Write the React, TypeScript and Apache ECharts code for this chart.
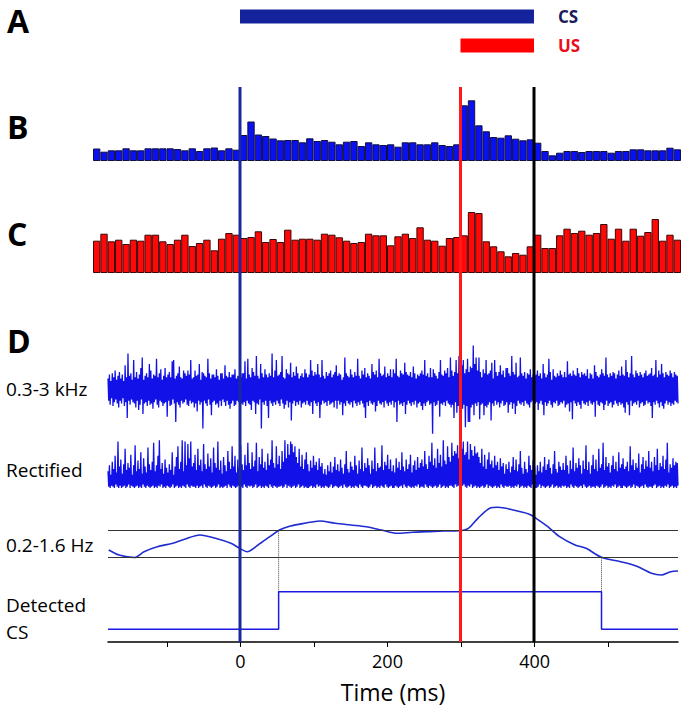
import React, { useEffect, useRef } from "react";
import * as echarts from "echarts";

// ---------- DATA ----------
// Panel A: stimulus timing (ms)
const csEvent = [0, 400];
const usEvent = [300, 400];

// Panels B / C: peri-stimulus histograms, 10 ms bins from -200 ms
const binStart = -200;
const binWidth = 10;
const blueHist = [
  12.5, 9.3, 10.7, 10.7, 12.7, 10.7, 10.7, 12.7, 12.7, 12.7, 12.7, 12, 10.7, 12.7, 10, 12.7, 13.5, 10.7, 12.7, 11.3,
  26, 39.5, 26.5, 25, 22.5, 20.7,
  21, 21, 18.7, 22.7, 20, 21, 19.3, 16.7, 19.3, 20, 15, 18.7, 16.7, 16, 16.7, 14.3, 18.7, 18.7, 16.7, 16.7, 18.7, 16, 15, 16.7,
  55.7, 60.7, 35.7, 29.7, 24, 23.3, 25.7, 22.3, 20.7, 21.7,
  18.3, 10, 5.7, 8.3, 10, 10, 9, 10, 10, 10, 8.3, 10, 10, 11.7, 11.7, 10.7, 10.7, 10.7, 13.3, 11.7,
];
const redHist = [
  32.3, 39.3, 31.7, 33.3, 29, 33.3, 32.3, 38.3, 38.3, 31.7, 29, 33.3, 38.3, 27, 30, 33.3, 22.7, 34.3, 40, 38.3,
  35, 36, 41.7, 31, 34, 31, 43.3,
  33.3, 34.3, 34.3, 33.3, 39.3, 38.3, 35.7, 32.3, 30, 31, 39.3, 37.7, 37.7, 27.7, 36.7, 39.3, 35, 45.7, 33.3, 32.3, 27.3, 35, 36,
  37.7, 61, 60, 31.7, 26.7, 21.7, 16.7, 20, 18.3, 26.7,
  38.3, 25, 25, 37.7, 44.3, 40, 42.3, 38.3, 40, 49, 34.3, 44.3, 32.3, 44.3, 37.3, 41, 54, 32.3, 38.3, 33.3,
];

// Panel D: recorded traces, evenly sampled from -180 to 595 ms.
// Each trace alternates peak / trough samples: peaks[i], troughs[i], peaks[i+1], ...
const traceStart = -180;
const traceEnd = 595;
// 0.3-3 kHz band: upward excursions
const rawPeaks = [
  8, 11, 6, 12, 9, 14, 7, 10, 13, 8, 11, 6, 18, 9, 27, 10, 12, 7, 22, 9,
  13, 8, 11, 16, 24, 7, 10, 12, 9, 19, 14, 8, 11, 10, 23, 9, 12, 15, 7, 10,
  16, 9, 11, 13, 9, 21, 22, 8, 10, 12, 17, 9, 8, 14, 12, 10, 14, 11, 22, 8,
  9, 14, 10, 11, 19, 7, 13, 12, 10, 9, 23, 12, 8, 11, 11, 9, 15, 10, 7, 12,
  12, 8, 18, 10, 9, 13, 9, 11, 11, 15, 8, 10, 10, 9, 12, 12, 21, 8, 23, 11,
  9, 16, 13, 10, 25, 10, 8, 19, 12, 9, 15, 11, 9, 12, 10, 27, 9, 14, 22, 10,
  11, 13, 25, 9, 8, 15, 12, 11, 20, 9, 13, 10, 17, 12, 8, 10, 12, 9, 15, 12,
  9, 11, 22, 14, 10, 13, 11, 19, 11, 9, 22, 10, 8, 13, 10, 12, 14, 9, 11, 13,
  18, 10, 12, 11, 7, 9, 24, 12, 10, 9, 15, 11, 9, 13, 10, 23, 10, 8, 14, 11,
  16, 9, 12, 10, 8, 19, 13, 11, 14, 9, 23, 12, 10, 11, 17, 9, 12, 10, 15, 9,
  15, 12, 23, 10, 9, 14, 12, 11, 20, 13, 11, 10, 13, 9, 17, 12, 8, 11, 10, 12,
  14, 11, 22, 10, 12, 9, 16, 9, 15, 12, 10, 8, 13, 22, 11, 10, 14, 12, 16, 9,
  24, 14, 10, 13, 22, 12, 25, 11, 18, 22, 12, 15, 23, 13, 17, 16, 33, 19, 24, 14,
  24, 13, 9, 15, 12, 22, 11, 12, 14, 20, 8, 22, 13, 10, 13, 18, 11, 14, 9, 16,
  16, 12, 10, 25, 13, 11, 20, 9, 10, 24, 12, 10, 13, 8, 12, 11, 15, 9, 11, 10,
  11, 14, 10, 12, 8, 19, 12, 9, 11, 23, 13, 7, 15, 10, 9, 12, 10, 14, 11, 9,
  13, 9, 21, 11, 12, 10, 14, 11, 10, 16, 12, 9, 13, 11, 12, 10, 15, 8, 12, 11,
  8, 18, 13, 10, 9, 11, 15, 12, 10, 24, 11, 9, 12, 10, 13, 12, 8, 11, 14, 10,
  17, 11, 10, 22, 13, 9, 12, 25, 11, 9, 14, 12, 10, 13, 11, 9, 12, 14, 10, 11,
  12, 16, 10, 11, 22, 9, 14, 11, 19, 12, 9, 13, 11, 10, 14, 12, 9, 13, 11, 10,
];
// 0.3-3 kHz band: downward excursions (magnitudes)
const rawTroughs = [
  9, 12, 7, 13, 10, 8, 11, 14, 9, 11, 7, 13, 10, 22, 9, 12, 8, 10, 11, 14,
  9, 16, 12, 8, 19, 11, 10, 13, 9, 12, 11, 15, 10, 8, 12, 14, 9, 10, 13, 11,
  10, 21, 9, 13, 12, 8, 11, 25, 10, 12, 14, 9, 11, 10, 8, 12, 13, 9, 11, 10,
  14, 11, 17, 9, 12, 10, 30, 9, 11, 13, 8, 12, 20, 10, 9, 12, 11, 14, 9, 13,
  8, 10, 13, 9, 12, 15, 11, 9, 13, 12, 9, 10, 8, 11, 12, 10, 13, 9, 11, 12,
  16, 9, 10, 19, 11, 12, 8, 30, 10, 12, 9, 13, 22, 9, 11, 13, 10, 12, 9, 11,
  13, 8, 11, 15, 12, 9, 14, 10, 24, 11, 9, 13, 10, 12, 9, 14, 11, 10, 12, 9,
  12, 13, 10, 19, 9, 11, 13, 10, 22, 12, 9, 11, 10, 13, 9, 12, 11, 10, 14, 9,
  15, 9, 12, 10, 20, 11, 13, 9, 11, 12, 10, 14, 9, 11, 13, 10, 12, 9, 11, 14,
  22, 10, 13, 9, 11, 12, 10, 17, 13, 9, 11, 12, 10, 14, 9, 11, 13, 10, 12, 9,
  14, 10, 25, 9, 12, 11, 13, 10, 19, 12, 9, 11, 13, 10, 12, 9, 14, 11, 10, 13,
  16, 11, 13, 10, 9, 12, 11, 34, 10, 13, 12, 9, 21, 11, 12, 10, 13, 9, 11, 12,
  14, 12, 22, 10, 18, 13, 26, 11, 15, 12, 29, 13, 25, 25, 14, 12, 20, 11, 13, 10,
  23, 12, 11, 20, 13, 14, 12, 10, 24, 11, 13, 9, 12, 10, 14, 11, 9, 13, 12, 10,
  18, 12, 10, 15, 11, 19, 13, 9, 11, 12, 10, 13, 9, 11, 12, 14, 10, 9, 13, 11,
  10, 16, 11, 9, 12, 20, 10, 13, 11, 9, 12, 14, 10, 11, 9, 13, 12, 10, 11, 9,
  14, 12, 11, 17, 10, 23, 9, 11, 13, 10, 12, 15, 9, 11, 12, 10, 13, 9, 11, 12,
  10, 21, 9, 12, 13, 10, 11, 16, 12, 9, 13, 11, 10, 14, 12, 9, 11, 13, 10, 12,
  11, 14, 18, 10, 12, 20, 9, 13, 11, 10, 12, 9, 14, 11, 10, 13, 12, 9, 11, 10,
  13, 22, 10, 12, 9, 11, 14, 10, 13, 15, 11, 9, 12, 10, 13, 11, 12, 9, 10, 11,
];
// Rectified: peaks and near-baseline lows
const rectPeaks = [
  14, 19, 11, 22, 16, 27, 13, 39, 18, 24, 12, 20, 33, 15, 21, 17, 28, 11, 19, 36,
  14, 23, 16, 30, 12, 25, 18, 13, 34, 20, 15, 22, 38, 14, 19, 27, 40, 16, 21, 12,
  24, 17, 13, 20, 15, 30, 11, 18, 26, 35, 16, 22, 40, 14, 39, 19, 37, 25, 39, 18,
  21, 28, 15, 33, 19, 24, 14, 37, 20, 16, 29, 18, 25, 13, 34, 21, 17, 39, 15, 23,
  12, 26, 19, 14, 31, 22, 16, 35, 18, 27, 13, 24, 17, 36, 20, 15, 28, 19, 38, 21,
  16, 30, 18, 23, 38, 14, 26, 20, 33, 17, 22, 15, 29, 19, 24, 40, 21, 17, 35, 20,
  27, 16, 31, 22, 40, 25, 37, 28, 39, 37, 30, 35, 26, 21, 33, 18, 28, 16, 24, 30,
  20, 14, 23, 17, 27, 19, 22, 15, 25, 18, 21, 12, 16, 11, 19, 14, 22, 13, 18, 26,
  15, 20, 14, 24, 17, 12, 20, 31, 16, 13, 22, 18, 15, 27, 19, 12, 23, 16, 34, 14,
  21, 17, 25, 19, 12, 23, 16, 34, 14, 21, 17, 18, 36, 15, 22, 19, 28, 16, 24, 14,
  19, 13, 25, 17, 22, 15, 30, 18, 14, 24, 16, 20, 28, 13, 19, 23, 15, 26, 17, 21,
  24, 18, 31, 20, 16, 27, 22, 38, 19, 25, 17, 33, 21, 28, 18, 40, 23, 20, 35, 26,
  22, 38, 27, 31, 29, 36, 25, 36, 33, 39, 28, 30, 39, 24, 37, 32, 27, 35, 29, 30,
  26, 21, 33, 18, 28, 16, 24, 30, 20, 23, 17, 27, 19, 22, 15, 25, 18, 21, 12, 20,
  16, 22, 13, 18, 26, 15, 24, 14, 20, 31, 17, 12, 22, 16, 13, 27, 19, 15, 23, 18,
  11, 19, 14, 22, 13, 18, 26, 15, 20, 24, 17, 12, 20, 31, 16, 13, 22, 18, 15, 21,
  15, 27, 19, 12, 23, 16, 34, 14, 21, 17, 25, 19, 12, 23, 16, 36, 15, 22, 12, 19,
  28, 16, 24, 14, 33, 17, 20, 38, 15, 26, 18, 21, 13, 19, 27, 16, 22, 14, 30, 17,
  20, 25, 16, 18, 22, 14, 35, 19, 24, 15, 21, 17, 29, 13, 20, 26, 16, 23, 18, 31,
  17, 22, 14, 26, 19, 33, 15, 21, 18, 27, 16, 24, 38, 13, 20, 17, 25, 19, 22, 21,
];
const rectLows = [
  1, 0, 2, 1, 0, 3, 1, 0, 2, 0, 1, 2, 0, 1, 3, 0, 2, 1, 0, 1,
  2, 0, 1, 0, 3, 1, 0, 2, 1, 0, 1, 2, 0, 1, 0, 2, 1, 3, 0, 1,
  0, 2, 1, 0, 1, 3, 0, 1, 2, 0, 1, 0, 2, 1, 0, 3, 1, 0, 2, 1,
  1, 0, 2, 0, 1, 2, 0, 3, 1, 0, 2, 1, 0, 1, 2, 0, 1, 3, 0, 1,
  0, 1, 2, 0, 3, 1, 0, 2, 1, 0, 1, 2, 0, 1, 0, 3, 1, 0, 2, 1,
  2, 0, 1, 3, 0, 1, 2, 0, 1, 0, 2, 1, 0, 3, 1, 0, 2, 1, 0, 1,
  1, 2, 0, 1, 3, 0, 2, 1, 0, 1, 2, 0, 1, 3, 0, 1, 2, 0, 1, 0,
  0, 1, 2, 0, 1, 0, 3, 1, 2, 0, 1, 0, 2, 1, 0, 1, 3, 0, 1, 2,
  1, 0, 1, 2, 0, 3, 1, 0, 1, 2, 0, 1, 0, 2, 1, 0, 3, 1, 0, 2,
  2, 1, 0, 1, 3, 0, 1, 2, 0, 1, 0, 2, 1, 0, 3, 1, 0, 1, 2, 0,
  0, 2, 1, 0, 1, 2, 0, 3, 1, 0, 2, 1, 0, 1, 0, 2, 1, 3, 0, 1,
  1, 0, 3, 1, 0, 2, 1, 0, 1, 2, 0, 1, 3, 0, 1, 2, 0, 1, 0, 2,
  2, 1, 0, 3, 1, 2, 0, 1, 2, 3, 1, 0, 2, 1, 3, 0, 1, 2, 0, 1,
  0, 1, 2, 0, 1, 3, 0, 2, 1, 0, 1, 2, 0, 1, 0, 3, 1, 0, 2, 1,
  1, 2, 0, 1, 0, 2, 1, 3, 0, 1, 2, 0, 1, 0, 2, 1, 0, 3, 1, 0,
  0, 1, 3, 0, 2, 1, 0, 1, 2, 0, 1, 3, 0, 1, 2, 0, 1, 0, 2, 1,
  2, 0, 1, 0, 3, 1, 0, 2, 1, 0, 1, 2, 0, 3, 1, 0, 1, 2, 0, 1,
  1, 0, 2, 1, 0, 1, 3, 0, 1, 2, 0, 1, 0, 2, 1, 3, 0, 1, 2, 0,
  0, 2, 1, 0, 1, 2, 0, 1, 3, 0, 2, 1, 0, 1, 2, 0, 3, 1, 0, 1,
  1, 0, 2, 3, 0, 1, 2, 0, 1, 0, 2, 1, 3, 0, 1, 2, 0, 1, 0, 2,
];
// 0.2-1.6 Hz envelope: [ms, value]
const envTime = [
  -179, -165, -144, -131, -113, -92, -76, -55, -34, -13, -1, 9, 24, 40, 53, 68, 87, 108, 129, 150, 171, 192, 213,
  234, 255, 276, 297, 310, 323, 339, 350, 371, 392, 402, 418, 434, 455, 470, 491, 517, 538, 559, 572, 585, 595,
];
const envValue = [
  92, 87, 84.5, 90.3, 95.3, 98.7, 102.7, 107, 103.7, 98.7, 93.7, 90.3, 97, 105.3, 112, 116, 118.7, 121, 118.7, 117,
  115.3, 112, 108.7, 109.7, 110.3, 111, 111.3, 113.7, 123.7, 133.7, 134.7, 132, 128, 123.7, 115.3, 105.3, 97, 93.7,
  84.7, 80.3, 76, 68.7, 67, 70.3, 71,
];
const thresholds = [111.3, 84.3]; // upper, lower
const detectEvent = [52, 491]; // detected CS on / off (ms)
const detectLevels = [12.7, 50.3]; // off / on level

// Axis ticks
const tickValues = [-100, 0, 100, 200, 300, 400, 500];
const tickLabels = [0, 200, 400];

// ---------- CHART ----------
const FONT = '"Open Sans", sans-serif';
const BLUE_BAR = "#14229c";
const TRACE_BLUE = "#1212e8";

export default function App() {
  const ref = useRef<HTMLDivElement>(null);

  useEffect(() => {
    if (!ref.current) return;
    const chart = echarts.init(ref.current, undefined, { renderer: "svg" });

    const cats = blueHist.map((_, i) => String(binStart + i * binWidth));
    // alternate peak / trough samples into one trace
    const alternate = (up: number[], down: number[]) => {
      const out: number[] = [];
      const n = Math.min(up.length, down.length);
      for (let i = 0; i < n; i++) {
        out.push(up[i]);
        out.push(down[i]);
      }
      return out;
    };
    const toPairs = (arr: number[]) =>
      arr.map((v, i) => [traceStart + (i * (traceEnd - traceStart)) / (arr.length - 1), v]);
    const rawTrace = alternate(rawPeaks, rawTroughs.map((v) => -v));
    const rectTrace = alternate(rectPeaks, rectLows);
    const envPairs = envTime.map((t, i) => [t, envValue[i]]);
    const stepPairs = [
      [traceStart, detectLevels[0]],
      [detectEvent[0], detectLevels[0]],
      [detectEvent[0], detectLevels[1]],
      [detectEvent[1], detectLevels[1]],
      [detectEvent[1], detectLevels[0]],
      [traceEnd, detectLevels[0]],
    ];

    const histLeft = 93;
    const histWidth = 588;
    const dLeft = 108;
    const dWidth = 570;

    const hiddenVal = (min: number, max: number, grid: number) => ({
      type: "value",
      gridIndex: grid,
      min,
      max,
      show: false,
    });

    const textEl = (text: string, x: number, y: number, size: number, bold = false, color = "#000") => ({
      type: "text",
      x,
      y,
      style: {
        text,
        fill: color,
        font: `${bold ? "bold " : ""}${size}px ${FONT}`,
        verticalAlign: "middle",
        align: "left",
      },
    });

    const option: any = {
      animation: false,
      backgroundColor: "#fff",
      grid: [
        { left: histLeft, width: histWidth, top: 2, height: 58 }, // A
        { left: histLeft, width: histWidth, top: 80, height: 81 }, // B
        { left: histLeft, width: histWidth, top: 193, height: 80 }, // C
        { left: dLeft, width: dWidth, top: 339, height: 100 }, // raw
        { left: dLeft, width: dWidth, top: 438, height: 50 }, // rectified
        { left: dLeft, width: dWidth, top: 500, height: 142 }, // envelope + detection + axis
        { left: histLeft, width: histWidth, top: 87, height: 555 }, // vertical event lines
      ],
      xAxis: [
        hiddenVal(-200, 600, 0),
        { type: "category", gridIndex: 1, data: cats, show: false, boundaryGap: true },
        { type: "category", gridIndex: 2, data: cats, show: false, boundaryGap: true },
        hiddenVal(traceStart, traceEnd, 3),
        hiddenVal(traceStart, traceEnd, 4),
        {
          type: "value",
          gridIndex: 5,
          min: traceStart,
          max: traceEnd,
          splitLine: { show: false },
          axisLine: { show: true, onZero: false, lineStyle: { color: "#000", width: 1.5 } },
          axisTick: {
            show: true,
            customValues: tickValues,
            length: 5,
            lineStyle: { color: "#000", width: 1 },
          },
          axisLabel: {
            customValues: tickLabels,
            color: "#000",
            fontSize: 18,
            fontFamily: FONT,
            margin: 10,
          },
          name: "Time (ms)",
          nameLocation: "middle",
          nameGap: 38,
          nameTextStyle: { color: "#000", fontSize: 23, fontFamily: FONT },
        },
        hiddenVal(-200, 600, 6),
      ],
      yAxis: [
        hiddenVal(-0.5, 1.5, 0),
        hiddenVal(0, 81, 1),
        hiddenVal(0, 80, 2),
        hiddenVal(-38, 38, 3),
        hiddenVal(0, 42, 4),
        hiddenVal(0, 142, 5),
        hiddenVal(0, 1, 6),
      ],
      series: [
        // Panel A
        {
          type: "line",
          xAxisIndex: 0,
          yAxisIndex: 0,
          data: [
            [csEvent[0], 1],
            [csEvent[1], 1],
          ],
          symbol: "none",
          lineStyle: { color: BLUE_BAR, width: 14, cap: "butt" },
          endLabel: {
            show: true,
            formatter: "CS",
            distance: 24,
            color: "#1b1b5c",
            fontWeight: "bold",
            fontSize: 17,
            fontFamily: FONT,
          },
        },
        {
          type: "line",
          xAxisIndex: 0,
          yAxisIndex: 0,
          data: [
            [usEvent[0], 0],
            [usEvent[1], 0],
          ],
          symbol: "none",
          lineStyle: { color: "#ff0000", width: 14, cap: "butt" },
          endLabel: {
            show: true,
            formatter: "US",
            distance: 24,
            color: "#e8101c",
            fontWeight: "bold",
            fontSize: 17,
            fontFamily: FONT,
          },
        },
        // Panel B
        {
          type: "bar",
          xAxisIndex: 1,
          yAxisIndex: 1,
          data: blueHist,
          barCategoryGap: "0%",
          barWidth: "100%",
          itemStyle: { color: "#0a10f0", borderColor: "#101040", borderWidth: 1 },
        },
        // Panel C
        {
          type: "bar",
          xAxisIndex: 2,
          yAxisIndex: 2,
          data: redHist,
          barCategoryGap: "0%",
          barWidth: "100%",
          itemStyle: { color: "#ff0808", borderColor: "#3a0808", borderWidth: 1 },
        },
        // Panel D: raw
        {
          type: "line",
          xAxisIndex: 3,
          yAxisIndex: 3,
          data: toPairs(rawTrace),
          symbol: "none",
          lineStyle: { color: TRACE_BLUE, width: 1.3 },
        },
        // rectified
        {
          type: "line",
          xAxisIndex: 4,
          yAxisIndex: 4,
          data: toPairs(rectTrace),
          symbol: "none",
          lineStyle: { color: TRACE_BLUE, width: 1.3 },
        },
        // envelope
        {
          type: "line",
          xAxisIndex: 5,
          yAxisIndex: 5,
          data: envPairs,
          symbol: "none",
          smooth: 0.3,
          lineStyle: { color: "#1f2cd0", width: 1.6 },
          markLine: {
            silent: true,
            symbol: "none",
            label: { show: false },
            lineStyle: { color: "#333", width: 1, type: "solid" },
            data: [{ yAxis: thresholds[0] }, { yAxis: thresholds[1] }],
          },
          z: 3,
        },
        // dotted drop lines
        {
          type: "line",
          xAxisIndex: 5,
          yAxisIndex: 5,
          data: [
            [detectEvent[0], thresholds[0]],
            [detectEvent[0], detectLevels[1]],
          ],
          symbol: "none",
          lineStyle: { color: "#444", width: 1, type: "dotted" },
        },
        {
          type: "line",
          xAxisIndex: 5,
          yAxisIndex: 5,
          data: [
            [detectEvent[1], thresholds[1]],
            [detectEvent[1], detectLevels[1]],
          ],
          symbol: "none",
          lineStyle: { color: "#444", width: 1, type: "dotted" },
        },
        // detection step
        {
          type: "line",
          xAxisIndex: 5,
          yAxisIndex: 5,
          data: stepPairs,
          symbol: "none",
          lineStyle: { color: "#1a1ae0", width: 1.5 },
        },
        // vertical event lines
        {
          type: "line",
          xAxisIndex: 6,
          yAxisIndex: 6,
          data: [
            [csEvent[0], 0],
            [csEvent[0], 1],
          ],
          symbol: "none",
          lineStyle: { color: "#1a2a9e", width: 3 },
          z: 10,
        },
        {
          type: "line",
          xAxisIndex: 6,
          yAxisIndex: 6,
          data: [
            [usEvent[0], 0],
            [usEvent[0], 1],
          ],
          symbol: "none",
          lineStyle: { color: "#ff1a1a", width: 3 },
          z: 10,
        },
        {
          type: "line",
          xAxisIndex: 6,
          yAxisIndex: 6,
          data: [
            [csEvent[1], 0],
            [csEvent[1], 1],
          ],
          symbol: "none",
          lineStyle: { color: "#000", width: 3 },
          z: 10,
        },
      ],
      graphic: [
        textEl("A", 7, 20, 32, true),
        textEl("B", 7, 126, 32, true),
        textEl("C", 7, 233, 32, true),
        textEl("D", 7, 340, 32, true),
        textEl("0.3-3 kHz", 6, 389, 19),
        textEl("Rectified", 6, 470, 19),
        textEl("0.2-1.6 Hz", 6, 545, 19),
        textEl("Detected", 6, 605, 19),
        textEl("CS", 6, 632, 19),
      ],
    };

    chart.setOption(option);
    return () => chart.dispose();
  }, []);

  return (
    <div
      ref={ref}
      style={{ position: "absolute", left: 0, top: 0, width: 685, height: 715, background: "#fff" }}
    />
  );
}
